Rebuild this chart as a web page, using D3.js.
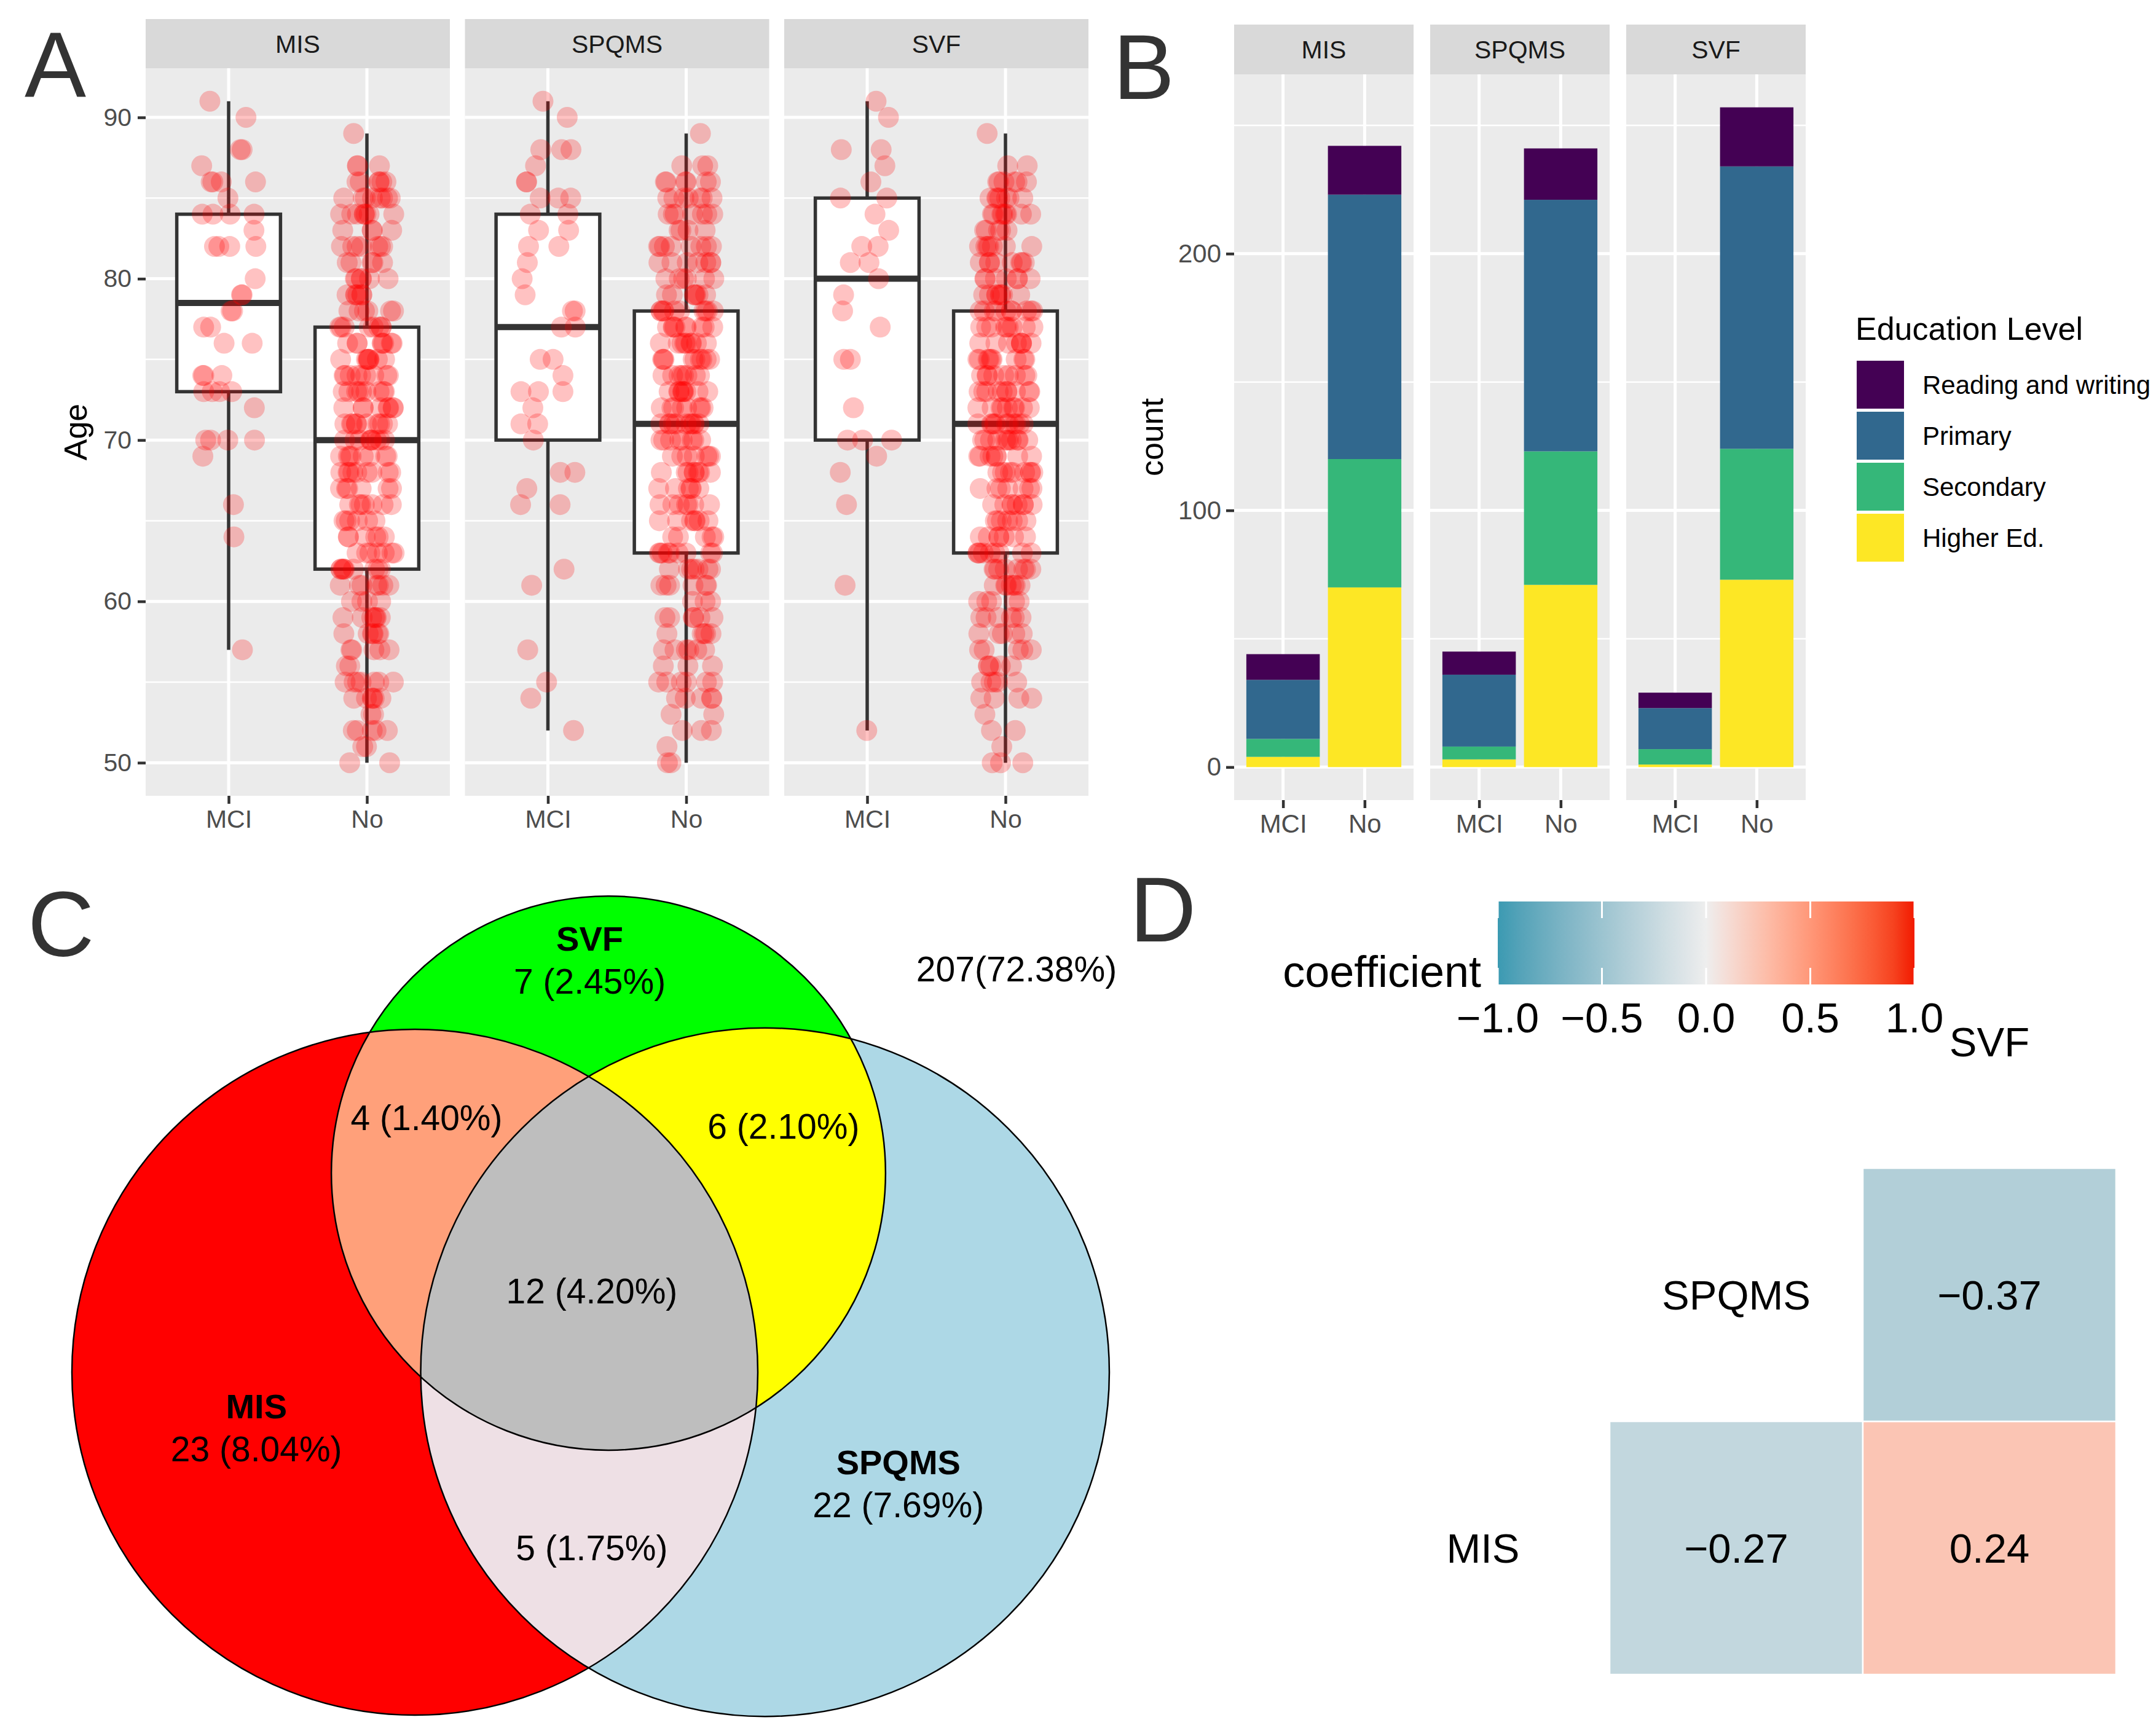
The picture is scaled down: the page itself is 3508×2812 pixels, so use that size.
<!DOCTYPE html>
<html>
<head>
<meta charset="utf-8">
<script src="https://cdn.jsdelivr.net/npm/d3@7"></script>
<style>
  body { margin: 0; background: #fff; }
  svg { display: block; }
  text { font-family: "Liberation Sans", Arial, Helvetica, sans-serif; }
</style>
</head>
<body>
<svg id="chart" width="3508" height="2812"></svg>
<script>
// ---- data ----
const facets = ['MIS', 'SPQMS', 'SVF'];
const groups = ['MCI', 'No'];

// Panel A: ages of MCI subjects, and counts of "No" subjects per age
const mciAgesMIS = [91, 90, 88, 88, 87, 86, 86, 86, 86, 85, 84, 84, 84, 84, 83, 82, 82, 82, 82, 80, 79, 79,
    78, 78, 77, 77, 76, 76, 74, 74, 74, 73, 73, 73, 73, 72, 70, 70, 70, 70, 69, 66, 64, 57];
const mciAgesSPQMS = [91, 90, 88, 88, 88, 87, 86, 86, 85, 85, 85, 84, 84, 83, 83, 82, 82, 81, 80, 79, 78, 78,
    77, 77, 75, 75, 74, 73, 73, 73, 72, 71, 71, 70, 68, 68, 67, 66, 66, 62, 61, 57, 55, 54, 52];
const mciAgesSVF = [91, 90, 88, 88, 87, 86, 85, 85, 84, 83, 82, 82, 81, 81, 80, 79, 78, 77, 75, 75,
    72, 70, 70, 70, 69, 68, 66, 61, 52];

const ageBins = [50, 51, 52, 53, 54, 55, 56, 57, 58, 59, 60, 61, 62, 63, 64, 65, 66, 67, 68, 69,
    70, 71, 72, 73, 74, 75, 76, 77, 78, 79, 80, 81, 82, 83, 84, 85, 86, 87, 88, 89];
const noCountsMIS = [2, 2, 5, 2, 6, 7, 2, 5, 6, 7, 4, 7, 9, 7, 6, 6, 7, 6, 9, 8,
    9, 10, 8, 9, 9, 8, 8, 8, 6, 6, 6, 5, 7, 4, 8, 8, 6, 3, 0, 1];
const noCountsSPQMS = [2, 1, 3, 2, 5, 6, 3, 6, 5, 6, 3, 6, 7, 9, 5, 7, 7, 6, 8, 7,
    8, 11, 8, 9, 8, 9, 9, 9, 10, 7, 6, 7, 8, 4, 7, 7, 6, 3, 0, 1];
const noCountsSVF = [3, 1, 2, 1, 4, 5, 5, 5, 5, 6, 5, 7, 8, 9, 7, 7, 8, 7, 9, 8,
    11, 11, 9, 10, 9, 9, 8, 9, 10, 8, 7, 8, 7, 5, 8, 7, 6, 2, 0, 1];
const ageTicks = [50, 60, 70, 80, 90];
const ageMinor = [55, 65, 75, 85];

// Panel B: counts by education level, order MIS-MCI, MIS-No, SPQMS-MCI, SPQMS-No, SVF-MCI, SVF-No
const eduLevels = ['Reading and writing', 'Primary', 'Secondary', 'Higher Ed.'];
const readingCounts = [10, 19, 9, 20, 6, 23];
const primaryCounts = [23, 103, 28, 98, 16, 110];
const secondaryCounts = [7, 50, 5, 52, 6, 51];
const higherCounts = [4, 70, 3, 71, 1, 73];
const countTicks = [0, 100, 200];
const countMinor = [50, 150, 250];

// Panel C: Venn region counts
const vennRegions = ['MIS', 'SPQMS', 'SVF', 'MIS&SVF', 'SVF&SPQMS', 'MIS&SPQMS', 'MIS&SPQMS&SVF'];
const vennCounts = [23, 22, 7, 4, 6, 5, 12];
const vennOutside = 207;

// Panel D: correlation coefficients
const corrVars = ['MIS', 'SPQMS', 'SVF'];
const corrRows = ['MIS', 'MIS', 'SPQMS'];
const corrCols = ['SPQMS', 'SVF', 'SVF'];
const corrValues = [-0.27, 0.24, -0.37];
const corrTicks = [-1, -0.5, 0, 0.5, 1];

// ---- styles ----
const eduColors = ['#440154', '#31688E', '#35B779', '#FDE725'];
const greyPanel = '#EBEBEB';
const axisText = '#4D4D4D';

const svg = d3.select('#chart');
svg.append('rect').attr('width', 3508).attr('height', 2812).attr('fill', '#fff');

// text helper, y is the vertical centre of capitals
function label(g, x, y, str, size, anchor = 'middle', fill = '#000', weight = 'normal') {
    return g.append('text')
        .attr('x', x).attr('y', y + size * 0.358)
        .attr('text-anchor', anchor)
        .attr('font-size', size)
        .attr('font-weight', weight)
        .attr('fill', fill)
        .text(str);
}

function panelLetter(x, y, str) {
    svg.append('text').attr('x', x).attr('y', y)
        .attr('font-size', 150).attr('fill', '#333').text(str);
}

function boxStats(vals) {
    const s = vals.slice().sort(d3.ascending);
    const q1 = d3.quantileSorted(s, 0.25), med = d3.quantileSorted(s, 0.5), q3 = d3.quantileSorted(s, 0.75);
    const iqr = q3 - q1;
    return {
        q1, med, q3,
        lo: d3.min(s.filter(v => v >= q1 - 1.5 * iqr)),
        hi: d3.max(s.filter(v => v <= q3 + 1.5 * iqr))
    };
}

function expandCounts(counts) {
    const out = [];
    counts.forEach((c, i) => { for (let j = 0; j < c; j++) out.push(ageBins[i]); });
    return out;
}

// ================= Panel A =================
const mciAges = [mciAgesMIS, mciAgesSPQMS, mciAgesSVF];
const noAges = [noCountsMIS, noCountsSPQMS, noCountsSVF].map(expandCounts);

const pA = { left: 237, width: 495, gap: 24.5, top: 111, bottom: 1295, stripTop: 31 };
const allAges = mciAges.flat().concat(noAges.flat());
const ageExt = d3.extent(allAges);
const agePad = (ageExt[1] - ageExt[0]) * 0.05;
const yA = d3.scaleLinear().domain([ageExt[0] - agePad, ageExt[1] + agePad]).range([pA.bottom, pA.top]);

facets.forEach((f, k) => {
    const x0 = pA.left + k * (pA.width + pA.gap);
    const x = d3.scaleLinear().domain([0.4, 2.6]).range([x0, x0 + pA.width]);
    const g = svg.append('g');

    g.append('rect').attr('x', x0).attr('y', pA.top).attr('width', pA.width)
        .attr('height', pA.bottom - pA.top).attr('fill', greyPanel);
    ageMinor.forEach(v => g.append('line').attr('x1', x0).attr('x2', x0 + pA.width)
        .attr('y1', yA(v)).attr('y2', yA(v)).attr('stroke', '#fff').attr('stroke-width', 2.5));
    ageTicks.forEach(v => g.append('line').attr('x1', x0).attr('x2', x0 + pA.width)
        .attr('y1', yA(v)).attr('y2', yA(v)).attr('stroke', '#fff').attr('stroke-width', 5));
    [1, 2].forEach(v => g.append('line').attr('x1', x(v)).attr('x2', x(v))
        .attr('y1', pA.top).attr('y2', pA.bottom).attr('stroke', '#fff').attr('stroke-width', 5));

    // strip
    g.append('rect').attr('x', x0).attr('y', pA.stripTop).attr('width', pA.width)
        .attr('height', pA.top - pA.stripTop).attr('fill', '#D9D9D9');
    label(g, x0 + pA.width / 2, (pA.stripTop + pA.top) / 2, f, 41, 'middle', '#1A1A1A');

    const sets = [mciAges[k], noAges[k]];
    sets.forEach((vals, gi) => {
        const st = boxStats(vals);
        const cx = x(gi + 1), hw = (x(1.375) - x(1));
        g.append('line').attr('x1', cx).attr('x2', cx).attr('y1', yA(st.hi)).attr('y2', yA(st.q3))
            .attr('stroke', '#333').attr('stroke-width', 5.5);
        g.append('line').attr('x1', cx).attr('x2', cx).attr('y1', yA(st.q1)).attr('y2', yA(st.lo))
            .attr('stroke', '#333').attr('stroke-width', 5.5);
        g.append('rect').attr('x', cx - hw).attr('y', yA(st.q3)).attr('width', hw * 2)
            .attr('height', yA(st.q1) - yA(st.q3)).attr('fill', '#fff')
            .attr('stroke', '#333').attr('stroke-width', 5.5);
        g.append('line').attr('x1', cx - hw).attr('x2', cx + hw).attr('y1', yA(st.med)).attr('y2', yA(st.med))
            .attr('stroke', '#333').attr('stroke-width', 10);
    });

    sets.forEach((vals, gi) => {
        const jitter = d3.randomUniform.source(d3.randomLcg(0.137 + k * 0.21 + gi * 0.07))(-0.2, 0.2);
        g.append('g').selectAll('circle').data(vals).join('circle')
            .attr('cx', () => x(gi + 1 + jitter()))
            .attr('cy', d => yA(d))
            .attr('r', 17)
            .attr('fill', 'red')
            .attr('fill-opacity', 0.24);
    });

    // bottom axis
    const ax = g.append('g').attr('transform', `translate(0,${pA.bottom})`)
        .call(d3.axisBottom(x).tickValues([1, 2]).tickFormat(d => groups[d - 1]).tickSize(13).tickPadding(10));
    ax.select('.domain').remove();
    ax.selectAll('line').attr('stroke', '#333').attr('stroke-width', 4.5);
    ax.selectAll('text').attr('font-size', 41).attr('fill', axisText)
        .attr('font-family', '"Liberation Sans", Arial, sans-serif');

    if (k === 0) {
        const ay = g.append('g').attr('transform', `translate(${x0},0)`)
            .call(d3.axisLeft(yA).tickValues(ageTicks).tickSize(13).tickPadding(10));
        ay.select('.domain').remove();
        ay.selectAll('line').attr('stroke', '#333').attr('stroke-width', 4.5);
        ay.selectAll('text').attr('font-size', 41).attr('fill', axisText)
            .attr('font-family', '"Liberation Sans", Arial, sans-serif');
    }
});
svg.append('text').attr('transform', `translate(141,${(pA.top + pA.bottom) / 2}) rotate(-90)`)
    .attr('text-anchor', 'middle').attr('font-size', 52).attr('fill', '#000').text('Age');
panelLetter(40, 157, 'A');

// ================= Panel B =================
const pB = { left: 2008, width: 292, gap: 27, top: 121, bottom: 1302, stripTop: 40 };
const stackKeys = eduLevels.slice().reverse(); // bottom first
const levelCounts = [readingCounts, primaryCounts, secondaryCounts, higherCounts];
const barRows = [];
facets.forEach((f, k) => groups.forEach((grp, gi) => {
    const idx = k * 2 + gi;
    const row = { facet: f, group: gi };
    eduLevels.forEach((lvl, li) => { row[lvl] = levelCounts[li][idx]; });
    barRows.push(row);
}));
const stacked = d3.stack().keys(stackKeys)(barRows);
const maxCount = d3.max(barRows, r => d3.sum(eduLevels, l => r[l]));
const yB = d3.scaleLinear().domain([-maxCount * 0.05, maxCount * 1.05]).range([pB.bottom, pB.top]);
const eduColor = d3.scaleOrdinal().domain(eduLevels).range(eduColors);

facets.forEach((f, k) => {
    const x0 = pB.left + k * (pB.width + pB.gap);
    const x = d3.scaleLinear().domain([0.4, 2.6]).range([x0, x0 + pB.width]);
    const g = svg.append('g');
    g.append('rect').attr('x', x0).attr('y', pB.top).attr('width', pB.width)
        .attr('height', pB.bottom - pB.top).attr('fill', greyPanel);
    countMinor.forEach(v => g.append('line').attr('x1', x0).attr('x2', x0 + pB.width)
        .attr('y1', yB(v)).attr('y2', yB(v)).attr('stroke', '#fff').attr('stroke-width', 2.5));
    countTicks.forEach(v => g.append('line').attr('x1', x0).attr('x2', x0 + pB.width)
        .attr('y1', yB(v)).attr('y2', yB(v)).attr('stroke', '#fff').attr('stroke-width', 5));
    [1, 2].forEach(v => g.append('line').attr('x1', x(v)).attr('x2', x(v))
        .attr('y1', pB.top).attr('y2', pB.bottom).attr('stroke', '#fff').attr('stroke-width', 5));

    g.append('rect').attr('x', x0).attr('y', pB.stripTop).attr('width', pB.width)
        .attr('height', pB.top - pB.stripTop).attr('fill', '#D9D9D9');
    label(g, x0 + pB.width / 2, (pB.stripTop + pB.top) / 2, f, 41, 'middle', '#1A1A1A');

    stacked.forEach(layer => {
        g.append('g').selectAll('rect')
            .data(layer.filter(d => d.data.facet === f))
            .join('rect')
            .attr('x', d => x(d.data.group + 1 - 0.45))
            .attr('width', d => x(1.9) - x(1))
            .attr('y', d => yB(d[1]))
            .attr('height', d => yB(d[0]) - yB(d[1]))
            .attr('fill', eduColor(layer.key));
    });

    const ax = g.append('g').attr('transform', `translate(0,${pB.bottom})`)
        .call(d3.axisBottom(x).tickValues([1, 2]).tickFormat(d => groups[d - 1]).tickSize(13).tickPadding(10));
    ax.select('.domain').remove();
    ax.selectAll('line').attr('stroke', '#333').attr('stroke-width', 4.5);
    ax.selectAll('text').attr('font-size', 42).attr('fill', axisText)
        .attr('font-family', '"Liberation Sans", Arial, sans-serif');

    if (k === 0) {
        const ay = g.append('g').attr('transform', `translate(${x0},0)`)
            .call(d3.axisLeft(yB).tickValues(countTicks).tickSize(13).tickPadding(8));
        ay.select('.domain').remove();
        ay.selectAll('line').attr('stroke', '#333').attr('stroke-width', 4.5);
        ay.selectAll('text').attr('font-size', 42).attr('fill', axisText)
            .attr('font-family', '"Liberation Sans", Arial, sans-serif');
    }
});
svg.append('text').attr('transform', `translate(1892,${(pB.top + pB.bottom) / 2}) rotate(-90)`)
    .attr('text-anchor', 'middle').attr('font-size', 52).attr('fill', '#000').text('count');
panelLetter(1811, 161, 'B');

// legend
const legB = svg.append('g').attr('transform', 'translate(3019,0)');
legB.append('text').attr('x', 0).attr('y', 553).attr('font-size', 52).attr('fill', '#000').text('Education Level');
eduLevels.forEach((lvl, i) => {
    const y0 = 587 + i * 83;
    legB.append('rect').attr('x', 2).attr('y', y0).attr('width', 77).attr('height', 78)
        .attr('fill', eduColor(lvl));
    label(legB, 109, y0 + 39, lvl, 42, 'start', '#000');
});

// ================= Panel C (Venn) =================
// circle geometry in units of the MIS radius
const vennLayout = {
    MIS: { cx: 0, cy: 0, r: 1 },
    SPQMS: { cx: 1.021, cy: 0, r: 1.004 },
    SVF: { cx: 0.5645, cy: -0.5806, r: 0.808 }
};
const vennUnit = 558;
const vx = d3.scaleLinear().domain([0, 1]).range([675, 675 + vennUnit]);
const vy = d3.scaleLinear().domain([0, 1]).range([2233, 2233 + vennUnit]);
const vennFill = {
    MIS: '#FF0000', SPQMS: '#ADD8E6', SVF: '#00FF00',
    'MIS&SVF': '#FFA07A', 'SVF&SPQMS': '#FFFF00', 'MIS&SPQMS': '#EEE0E5', 'MIS&SPQMS&SVF': '#BEBEBE'
};
const vennTotal = d3.sum(vennCounts) + vennOutside;
const pct = n => `${(n / vennTotal * 100).toFixed(2)}%`;

const defs = svg.append('defs');
const gC = svg.append('g');
function vennCircle(parent, name) {
    const c = vennLayout[name];
    return parent.append('circle').attr('cx', vx(c.cx)).attr('cy', vy(c.cy)).attr('r', c.r * vennUnit);
}
['MIS', 'SPQMS', 'SVF'].forEach(name => {
    vennCircle(defs.append('clipPath').attr('id', `clip-${name}`), name);
});
vennCircle(gC, 'MIS').attr('fill', vennFill.MIS);
vennCircle(gC, 'SPQMS').attr('fill', vennFill.SPQMS);
vennCircle(gC, 'SVF').attr('fill', vennFill.SVF);
vennCircle(gC.append('g').attr('clip-path', 'url(#clip-SVF)'), 'MIS').attr('fill', vennFill['MIS&SVF']);
vennCircle(gC.append('g').attr('clip-path', 'url(#clip-SVF)'), 'SPQMS').attr('fill', vennFill['SVF&SPQMS']);
vennCircle(gC.append('g').attr('clip-path', 'url(#clip-SPQMS)'), 'MIS').attr('fill', vennFill['MIS&SPQMS']);
vennCircle(gC.append('g').attr('clip-path', 'url(#clip-SPQMS)').append('g').attr('clip-path', 'url(#clip-SVF)'), 'MIS')
    .attr('fill', vennFill['MIS&SPQMS&SVF']);
['MIS', 'SPQMS', 'SVF'].forEach(name => vennCircle(gC, name).attr('fill', 'none').attr('stroke', '#000').attr('stroke-width', 2.5));

// label anchors (same unit space)
const vennLabelPos = {
    SVF: [0.51, -1.14], MIS: [-0.462, 0.224], SPQMS: [1.41, 0.387],
    'MIS&SVF': [0.034, -0.742], 'SVF&SPQMS': [1.075, -0.717],
    'MIS&SPQMS': [0.516, 0.511], 'MIS&SPQMS&SVF': [0.516, -0.238]
};
vennRegions.forEach((reg, i) => {
    const p = vennLabelPos[reg];
    if (!reg.includes('&')) {
        label(gC, vx(p[0]), vy(p[1]) - 70, reg, 56, 'middle', '#000', 'bold');
    }
    label(gC, vx(p[0]), vy(p[1]), `${vennCounts[i]} (${pct(vennCounts[i])})`, 57);
});
label(gC, 1654, 1577, `${vennOutside}(${pct(vennOutside)})`, 57);
panelLetter(45, 1556, 'C');

// ================= Panel D (correlation) =================
const gD = svg.append('g');
const cx = d3.scaleBand().domain(corrVars).range([2207, 3443]);
const cy = d3.scaleBand().domain(corrVars.slice().reverse()).range([1489, 2725]);
const corrColor = d3.scaleLinear().domain([-1, 0, 1])
    .range(['#3B9AB2', '#EEEEEE', '#F21A00']).interpolate(d3.interpolateLab);

corrValues.forEach((v, i) => {
    gD.append('rect').attr('x', cx(corrCols[i])).attr('y', cy(corrRows[i]))
        .attr('width', cx.bandwidth()).attr('height', cy.bandwidth())
        .attr('fill', corrColor(v)).attr('stroke', '#fff').attr('stroke-width', 2.5);
    label(gD, cx(corrCols[i]) + cx.bandwidth() / 2, cy(corrRows[i]) + cy.bandwidth() / 2,
        d3.format('.2f')(v).replace('-', '\u2212'), 67);
});
corrVars.forEach(v => {
    label(gD, cx(v) + cx.bandwidth() / 2, cy(v) + cy.bandwidth() / 2, v, 67);
});

// colour bar legend
const cbX = d3.scaleLinear().domain([-1, 1]).range([2437, 3115]);
const cbTop = 1467, cbBottom = 1602;
const grad = defs.append('linearGradient').attr('id', 'cbGrad').attr('x1', '0%').attr('x2', '100%');
d3.range(0, 21).forEach(i => {
    const t = -1 + i * 0.1;
    grad.append('stop').attr('offset', `${i * 5}%`).attr('stop-color', corrColor(t));
});
gD.append('rect').attr('x', cbX(-1)).attr('y', cbTop).attr('width', cbX(1) - cbX(-1))
    .attr('height', cbBottom - cbTop).attr('fill', 'url(#cbGrad)');
corrTicks.forEach(t => {
    const tl = (cbBottom - cbTop) / 5;
    gD.append('line').attr('x1', cbX(t)).attr('x2', cbX(t)).attr('y1', cbTop).attr('y2', cbTop + tl)
        .attr('stroke', '#fff').attr('stroke-width', 3);
    gD.append('line').attr('x1', cbX(t)).attr('x2', cbX(t)).attr('y1', cbBottom - tl).attr('y2', cbBottom)
        .attr('stroke', '#fff').attr('stroke-width', 3);
    label(gD, cbX(t), 1656, d3.format('.1f')(t).replace('-', '\u2212'), 68);
});
gD.append('text').attr('x', 2410).attr('y', 1606).attr('text-anchor', 'end')
    .attr('font-size', 72).attr('fill', '#000').text('coefficient');
panelLetter(1838, 1532, 'D');
</script>
</body>
</html>
